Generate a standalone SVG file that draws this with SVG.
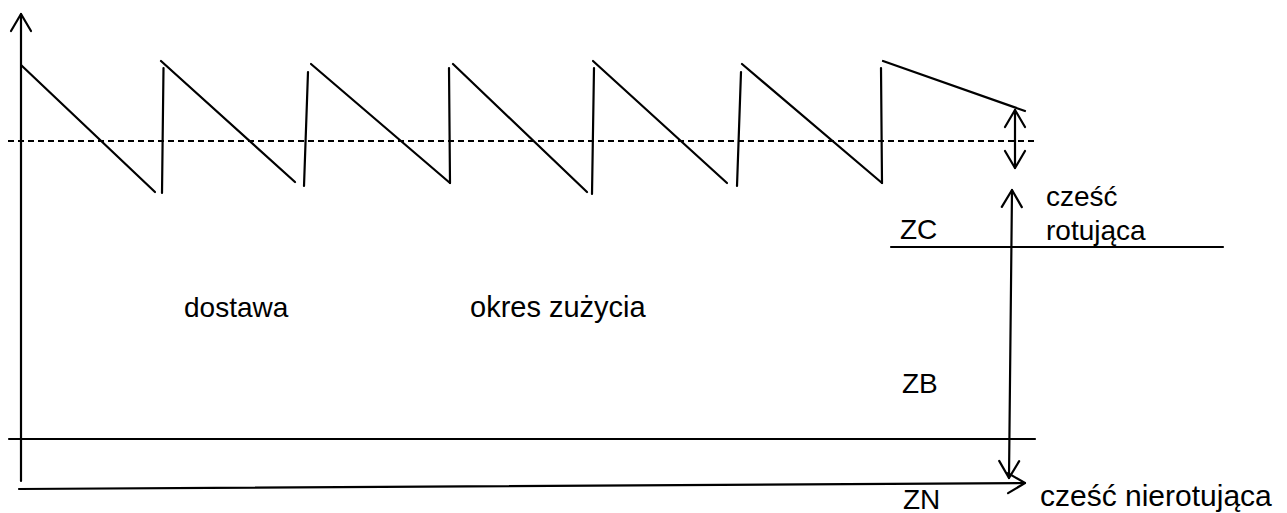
<svg xmlns="http://www.w3.org/2000/svg" width="1287" height="513" viewBox="0 0 1287 513">
<style>
.ln{stroke:#000;stroke-width:2.2;fill:none;stroke-linecap:round}
.dash{stroke:#000;stroke-width:2;fill:none;stroke-dasharray:6 4}
.t{font-family:"Liberation Sans",Arial,sans-serif;font-size:28px;fill:#000}
</style>
<defs>
<marker id="ah" markerUnits="userSpaceOnUse" viewBox="-20 -12 22 24" refX="0" refY="0" markerWidth="22" markerHeight="24" orient="auto-start-reverse">
<path d="M-17,-10 L0,0 L-17,10" fill="none" stroke="#000" stroke-width="2.2" stroke-linecap="round" stroke-linejoin="round"/>
</marker>
</defs>
<rect width="1287" height="513" fill="#fff"/>
<g id="sawtooth">
<line class="ln" x1="21" y1="65" x2="155" y2="192"/>
<line class="ln" x1="163.5" y1="68" x2="162" y2="193"/>
<line class="ln" x1="161" y1="61" x2="295" y2="182"/>
<line class="ln" x1="308" y1="72" x2="304" y2="186"/>
<line class="ln" x1="311" y1="64" x2="450" y2="183"/>
<line class="ln" x1="449" y1="68" x2="450" y2="183"/>
<line class="ln" x1="453" y1="64" x2="587" y2="192"/>
<line class="ln" x1="594" y1="68" x2="592" y2="194"/>
<line class="ln" x1="593" y1="61" x2="727" y2="183"/>
<line class="ln" x1="741" y1="72" x2="737" y2="186"/>
<line class="ln" x1="742" y1="64" x2="882" y2="183"/>
<line class="ln" x1="881" y1="68" x2="882" y2="183"/>
<line class="ln" x1="883" y1="61" x2="1025" y2="111"/>
</g>
<g id="levels">
<line class="dash" x1="8" y1="141" x2="1034" y2="141"/>
<line class="ln" x1="891" y1="247" x2="1223" y2="247"/>
<line class="ln" x1="9" y1="439" x2="1035" y2="439"/>
</g>
<g id="connectors">
<line class="ln" x1="21" y1="481" x2="21" y2="14" marker-end="url(#ah)"/>
<line class="ln" x1="19" y1="489" x2="1025" y2="483" marker-end="url(#ah)"/>
<line class="ln" x1="1015" y1="110" x2="1015" y2="168" marker-start="url(#ah)" marker-end="url(#ah)"/>
<line class="ln" x1="1012" y1="190" x2="1009" y2="478" marker-start="url(#ah)" marker-end="url(#ah)"/>
</g>
<g id="label-dostawa"><text class="t" x="184" y="317">dostawa</text></g>
<g id="label-okres"><text class="t" x="470" y="317" style="font-size:29px">okres zużycia</text></g>
<g id="label-zc"><text class="t" x="900" y="239">ZC</text></g>
<g id="label-zb"><text class="t" x="902" y="393">ZB</text></g>
<g id="label-zn"><text class="t" x="903" y="509">ZN</text></g>
<g id="label-rot"><text class="t" x="1046" y="206">cześć</text><text class="t" x="1046" y="240">rotująca</text></g>
<g id="label-nierot"><text class="t" x="1040" y="506" style="font-size:30px">cześć nierotująca</text></g>
</svg>
